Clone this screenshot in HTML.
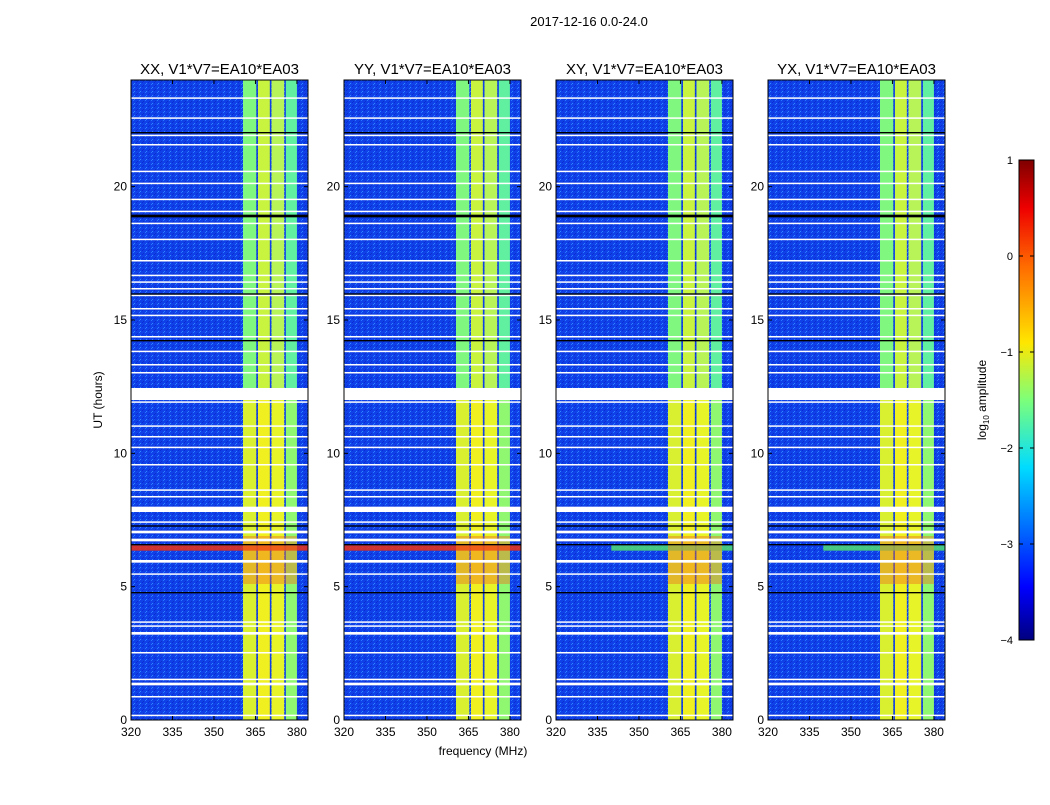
<!DOCTYPE html>
<html><head><meta charset="utf-8"><style>
body{margin:0;background:#fff;font-family:"Liberation Sans",sans-serif;}
text{font-family:"Liberation Sans",sans-serif;}
</style></head><body>
<svg id="c" width="1050" height="800" xmlns="http://www.w3.org/2000/svg">
<defs>
<linearGradient id="jet" x1="0" y1="1" x2="0" y2="0">
<stop offset="0" stop-color="#00007f"/><stop offset="0.11" stop-color="#0000ff"/>
<stop offset="0.36" stop-color="#00dcff"/><stop offset="0.5" stop-color="#7dff7a"/>
<stop offset="0.62" stop-color="#ffe600"/><stop offset="0.78" stop-color="#ff6a00"/>
<stop offset="0.9" stop-color="#ee0000"/><stop offset="1" stop-color="#7f0000"/>
</linearGradient>
<pattern id="noise" width="6" height="4" patternUnits="userSpaceOnUse">
<rect width="6" height="4" fill="#1040e8"/><rect x="1" y="0" width="1" height="1" fill="#2a78ff"/>
<rect x="4" y="2" width="1" height="1" fill="#0a2ad8"/><rect x="2" y="3" width="1" height="1" fill="#3088ff"/>
<rect x="5" y="1" width="1" height="1" fill="#0c30c8"/>
</pattern>
</defs>
<text x="589" y="26" font-size="13" text-anchor="middle">2017-12-16 0.0-24.0</text>
<g id="panels"></g>
<text x="483" y="755" font-size="12" text-anchor="middle">frequency (MHz)</text>
<text transform="translate(102,400) rotate(-90)" font-size="12" text-anchor="middle">UT (hours)</text>
<g>
<rect x="1019" y="160" width="15" height="480" fill="url(#jet)" stroke="#000" stroke-width="1"/>
<g id="cbticks"></g>
<text transform="translate(986,400) rotate(-90)" font-size="12" text-anchor="middle">log<tspan font-size="8" dy="3">10</tspan><tspan dy="-3"> amplitude</tspan></text>
</g>
</svg>
<script>
const NS="http://www.w3.org/2000/svg";
const panelTitles=["XX, V1*V7=EA10*EA03","YY, V1*V7=EA10*EA03","XY, V1*V7=EA10*EA03","YX, V1*V7=EA10*EA03"];
const xTicks=[320,335,350,365,380];
const yTicks=[0,5,10,15,20];
const cbTicks=[1,0,-1,-2,-3,-4];
const subBands=[[360.5,365.3],[365.9,370.2],[370.8,375.4],[376,380]];
const subColorsLow=["#d8f030","#f0f020","#e6f428","#90f870"];
const subColorsHigh=["#80f880","#c8f440","#b8f458","#60f0a0"];
const gaps=[[0.15,0.2],[0.85,0.9],[1.3,1.4],[1.5,1.55],[2.5,2.55],[3.2,3.3],[3.5,3.55],[3.65,3.7],[5.45,5.5],[5.9,6.0],[6.7,6.8],[7.0,7.1],[7.4,7.45],[7.8,8.0],[8.35,8.4],[8.6,8.65],[9.55,9.6],[10.2,10.25],[10.6,10.65],[11.0,11.05],[11.9,11.95],[12.0,12.45],[13.0,13.05],[13.3,13.35],[13.8,13.85],[14.35,14.4],[15.15,15.2],[15.4,15.45],[15.9,15.95],[16.15,16.2],[16.4,16.45],[16.65,16.7],[17.2,17.25],[18.0,18.05],[18.6,18.65],[19.05,19.1],[19.5,19.55],[20.1,20.15],[20.55,20.6],[21.55,21.6],[21.9,21.95],[22.55,22.6],[23.3,23.35]];
const blacks=[[4.75,4.8],[6.55,6.6],[7.25,7.3],[14.2,14.25],[15.95,16.0],[18.85,18.95],[22.0,22.05]];
const redRows=[[6.35,6.55]];
const W=177,H=640,T=80,lefts=[131,344,556,768];
const xMin=320,xMax=384,yMin=0,yMax=24;
function el(t,a,p){const e=document.createElementNS(NS,t);for(const k in a)e.setAttribute(k,a[k]);p.appendChild(e);return e;}
const root=document.getElementById('panels');
lefts.forEach((L,pi)=>{
 const xs=v=>L+(v-xMin)/(xMax-xMin)*W, ys=v=>T+H-(v-yMin)/(yMax-yMin)*H;
 const g=el('g',{},root);
 
 
 el('rect',{x:L,y:T,width:W,height:H,fill:'url(#noise)'},g);
 subBands.forEach((b,i)=>{
  const r1=el('rect',{x:xs(b[0]),y:ys(24),width:xs(b[1])-xs(b[0]),height:ys(12.45)-ys(24),fill:subColorsHigh[i]},g);
  
  
  const r2=el('rect',{x:xs(b[0]),y:ys(12.45),width:xs(b[1])-xs(b[0]),height:ys(0)-ys(12.45),fill:subColorsLow[i]},g);
  
  
 });
 redRows.forEach(r=>{
  const rr=el('rect',{x:pi<2?L:xs(340),y:ys(r[1]),width:pi<2?W:xs(384)-xs(340),height:ys(r[0])-ys(r[1]),fill:pi<2?'#f03010':'#50e070',opacity:0.85},g);
  
  
  el('rect',{x:xs(360.5),y:ys(6.9),width:xs(380)-xs(360.5),height:ys(5.1)-ys(6.9),fill:'#f07020',opacity:0.45},g);
 });
 gaps.forEach(r=>{
  const gr=el('rect',{x:L,y:ys(r[1]),width:W,height:Math.max(1.5,ys(r[0])-ys(r[1])),fill:'#fff'},g);
  
  
 });
 blacks.forEach(r=>{
  const br=el('rect',{x:L,y:ys(r[1]),width:W,height:Math.max(1.2,ys(r[0])-ys(r[1])),fill:'#000'},g);
  
  
 });
 el('rect',{x:L,y:T,width:W,height:H,fill:'none',stroke:'#000','stroke-width':1},g);
 const tt=el('text',{x:L+W/2,y:T-6,'font-size':15,'text-anchor':'middle'},g);tt.textContent=panelTitles[pi];
 
 
 xTicks.forEach(v=>{
  const x=xs(v);
  el('line',{x1:x,x2:x,y1:T+H,y2:T+H-4,stroke:'#000'},g);
  el('line',{x1:x,x2:x,y1:T,y2:T+4,stroke:'#000'},g);
  const t=el('text',{x:x,y:T+H+16,'font-size':12,'text-anchor':'middle'},g);t.textContent=v;
  
  
 });
 yTicks.forEach(v=>{
  const y=ys(v);
  el('line',{x1:L,x2:L+4,y1:y,y2:y,stroke:'#000'},g);
  el('line',{x1:L+W,x2:L+W-4,y1:y,y2:y,stroke:'#000'},g);
  const t=el('text',{x:L-4,y:y+4,'font-size':12,'text-anchor':'end'},g);t.textContent=v;
  
  
 });
});
const cb=document.getElementById('cbticks');
cbTicks.forEach(v=>{
 const y=160+(1-v)/5*480;
 el('line',{x1:1019,x2:1023,y1:y,y2:y,stroke:'#000'},cb);
 el('line',{x1:1030,x2:1034,y1:y,y2:y,stroke:'#000'},cb);
 const t=el('text',{x:1013,y:y+4,'font-size':11,'text-anchor':'end'},cb);t.textContent=v<0?'\u2212'+(-v):v;
 
 
});
</script>
</body></html>
